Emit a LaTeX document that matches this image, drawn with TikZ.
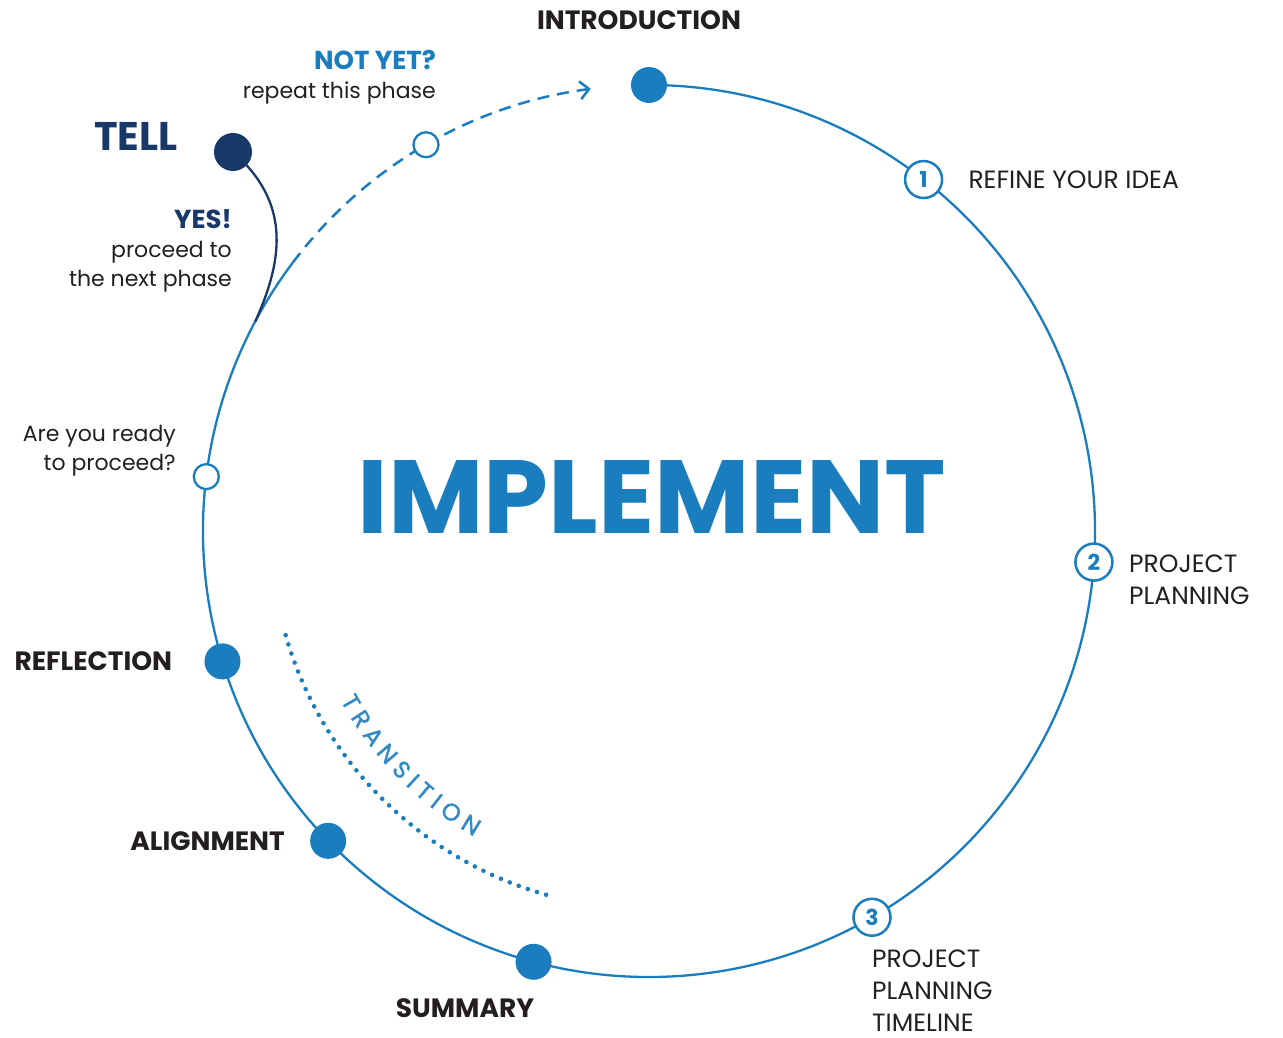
\documentclass[tikz,border=0pt]{standalone}
\usepackage{fontspec}
\setmainfont{Poppins}
\newfontfamily\transfont[FakeBold=1.5]{Poppins}
\usetikzlibrary{arrows.meta, positioning, decorations.text}
\definecolor{ideablue}{RGB}{26, 125, 190}
\definecolor{tellnavy}{RGB}{24, 56, 104}
\definecolor{inkblack}{RGB}{35, 31, 32}

\begin{document}
\begin{tikzpicture}[x=1pt, y=1pt,
    ring/.style={draw=ideablue, line width=2.3pt},
    phase/.style={circle, fill=ideablue, minimum size=36pt, inner sep=0pt},
    hollow/.style={circle, draw=ideablue, fill=white, line width=2.3pt, minimum size=25pt, inner sep=0pt},
    numbered/.style={circle, draw=ideablue, fill=white, line width=2.5pt, minimum size=37pt, inner sep=0pt,
                     text=ideablue, font=\fontsize{22}{22}\selectfont\bfseries},
    heading/.style={inner sep=0pt, text=inkblack, font=\fontsize{26.5}{30}\selectfont\bfseries},
    caption/.style={inner sep=0pt, text=inkblack, align=left, font=\fontsize{25}{32}\selectfont},
    note/.style={inner sep=0pt, text=inkblack, align=right, font=\fontsize{22}{29}\selectfont},
    loopback/.style={draw=ideablue, line width=2.5pt, dash pattern=on 12pt off 8pt,
                     -{Straight Barb[length=9pt, width=18pt]}},
    tellline/.style={draw=tellnavy, line width=2.3pt}
]
\useasboundingbox (-649,-507) rectangle (634,531);

% main cycle
\draw[ring] (143:446) arc[start angle=143, end angle=450, radius=446];
\draw[loopback] (143:446) arc[start angle=143, end angle=97.5, radius=446];
\coordinate (join) at (152:446);

% transition
\draw[ideablue, line width=4.6pt, line cap=round, dash pattern=on 0pt off 9.6pt]
    (196:378) arc[start angle=196, end angle=255.5, radius=378];
\path[decorate, decoration={text along path, text align=center,
    text={|\transfont\fontsize{24}{24}\selectfont\color{ideablue!90!white}|T R A N S I T I O N}}]
    (206:352) arc[start angle=206, end angle=243, radius=352];

% tell branch
\node[circle, fill=tellnavy, minimum size=38pt, inner sep=0pt] (tell) at (-416,379) {};
\draw[tellline] (tell.center) .. controls (-360,330) and (-364,275) .. (join);

% points on the cycle
\node[phase] (intro) at (90:446) {};
\node[numbered] (n1) at (52:446) {1};
\node[numbered] (n2) at (-4:446) {2};
\node[numbered] (n3) at (-60:446) {3};
\node[phase] (summ) at (255:446) {};
\node[phase] (align) at (224:446) {};
\node[phase] (refl) at (197:446) {};
\node[hollow] (ready) at (173:446) {};
\node[hollow] (again) at (120:446) {};

% labels
\node[inner sep=0pt, text=ideablue, font=\fontsize{104}{104}\selectfont\bfseries] (title) at (3,34) {IMPLEMENT};
\node[heading] (intro-label) at (-10,511) {INTRODUCTION};
\node[heading, left=32pt of refl] (refl-label) {REFLECTION};
\node[heading, left=25pt of align] (align-label) {ALIGNMENT};
\node[heading] (summ-label) at (-184,-477) {SUMMARY};
\node[caption, right=25pt of n1] (n1-label) {REFINE YOUR IDEA};
\node[caption, anchor=west] (n2-label) at (480,-49) {PROJECT\\PLANNING};
\node[caption, anchor=west] (n3-label) at (223,-460) {PROJECT\\PLANNING\\TIMELINE};
\node[heading, text=tellnavy, font=\fontsize{40}{40}\selectfont\bfseries, anchor=east] (tell-label) at (-471,395) {TELL};
\node[note, anchor=east] (yes-label) at (-417,280)
    {{\fontsize{26}{29}\selectfont\bfseries\color{tellnavy}YES!}\\proceed to\\the next phase};
\node[note, anchor=east] (again-label) at (-213,454)
    {{\fontsize{26}{29}\selectfont\bfseries\color{ideablue}NOT YET?}\\repeat this phase};
\node[note, anchor=east] (ready-label) at (-473,80) {Are you ready\\to proceed?};

\end{tikzpicture}
\end{document}
